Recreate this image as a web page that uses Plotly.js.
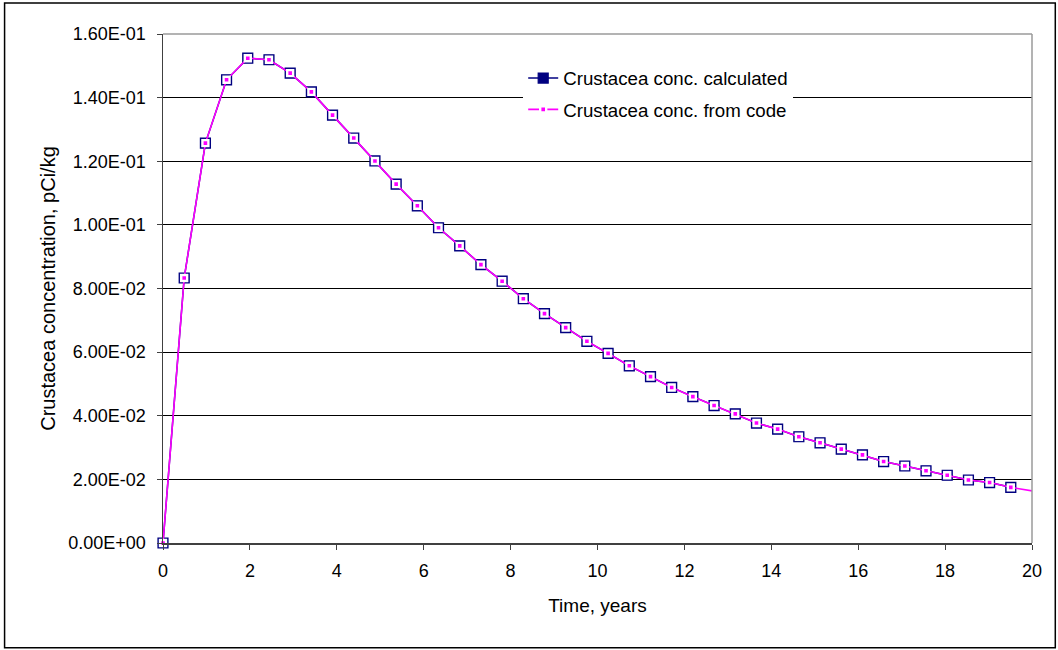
<!DOCTYPE html>
<html>
<head>
<meta charset="utf-8">
<script src="https://cdn.plot.ly/plotly-3.0.1.min.js"></script>
<style>
  html, body { margin: 0; padding: 0; background: #ffffff; }
  #chart { width: 1058px; height: 650px; }
</style>
</head>
<body>
<div id="chart"></div>
<script>
// ---- Data ----
const timeYears = [0, 0.488, 0.976, 1.463, 1.951, 2.439, 2.927, 3.415, 3.902, 4.390,
  4.878, 5.366, 5.854, 6.341, 6.829, 7.317, 7.805, 8.293, 8.780, 9.268,
  9.756, 10.244, 10.732, 11.220, 11.707, 12.195, 12.683, 13.171, 13.659, 14.146,
  14.634, 15.122, 15.610, 16.098, 16.585, 17.073, 17.561, 18.049, 18.537, 19.024,
  19.512];
const calcConc = [0, 0.0833, 0.1257, 0.1456, 0.1524, 0.1519, 0.1477, 0.1418, 0.1345, 0.1273,
  0.1201, 0.1128, 0.1060, 0.0991, 0.0934, 0.0875, 0.0823, 0.0768, 0.0721, 0.0677,
  0.0634, 0.0596, 0.0557, 0.0523, 0.0489, 0.0460, 0.0432, 0.0406, 0.0377, 0.0358,
  0.0334, 0.0315, 0.0295, 0.0277, 0.0256, 0.0242, 0.0227, 0.0213, 0.0198, 0.0190,
  0.0175];
const codeTime = [0, 0.488, 0.976, 1.463, 1.951, 2.439, 2.927, 3.415, 3.902, 4.390,
  4.878, 5.366, 5.854, 6.341, 6.829, 7.317, 7.805, 8.293, 8.780, 9.268,
  9.756, 10.244, 10.732, 11.220, 11.707, 12.195, 12.683, 13.171, 13.659, 14.146,
  14.634, 15.122, 15.610, 16.098, 16.585, 17.073, 17.561, 18.049, 18.537, 19.024,
  19.512, 20.12];
const codeConc = [0, 0.0833, 0.1257, 0.1456, 0.1524, 0.1519, 0.1477, 0.1418, 0.1345, 0.1273,
  0.1201, 0.1128, 0.1060, 0.0991, 0.0934, 0.0875, 0.0823, 0.0768, 0.0721, 0.0677,
  0.0634, 0.0596, 0.0557, 0.0523, 0.0489, 0.0460, 0.0432, 0.0406, 0.0377, 0.0358,
  0.0334, 0.0315, 0.0295, 0.0277, 0.0256, 0.0242, 0.0227, 0.0213, 0.0198, 0.0190,
  0.0175, 0.0161];
const seriesNames = ['Crustacea conc. calculated', 'Crustacea conc. from code'];
const xTickVals = [0, 2, 4, 6, 8, 10, 12, 14, 16, 18, 20];
const yTickVals = [0, 0.02, 0.04, 0.06, 0.08, 0.10, 0.12, 0.14, 0.16];
const yTickText = ['0.00E+00', '2.00E-02', '4.00E-02', '6.00E-02', '8.00E-02',
  '1.00E-01', '1.20E-01', '1.40E-01', '1.60E-01'];
const xTitle = 'Time, years';
const yTitle = 'Crustacea concentration, pCi/kg';

// ---- Styling ----
const FONT = 'Liberation Sans, Arial, Helvetica, sans-serif';
const NAVY = '#000080';
const MAGENTA = '#FF00FF';
const AXISCOLOR = '#404040';

const traces = [
  {
    x: timeYears, y: calcConc, name: seriesNames[0], type: 'scatter', mode: 'lines+markers',
    legendgroup: 'a',
    line: { color: NAVY, width: 1.5 },
    marker: { symbol: 'square', size: 10, color: NAVY, line: { color: NAVY, width: 1.2 } },
    cliponaxis: false, hoverinfo: 'x+y'
  },
  {
    x: codeTime, y: codeConc, name: seriesNames[1], type: 'scatter', mode: 'lines+markers',
    legendgroup: 'b',
    line: { color: MAGENTA, width: 1.6 },
    marker: { symbol: 'square', size: 6, color: MAGENTA, line: { color: '#ffffff', width: 2.4 } },
    cliponaxis: false, hoverinfo: 'x+y'
  }
];

const layout = {
  width: 1058, height: 650, autosize: false,
  paper_bgcolor: '#ffffff', plot_bgcolor: '#ffffff',
  font: { family: FONT, size: 18, color: '#000000' },
  margin: { l: 163.3, r: 26.3, t: 34, b: 106.7, pad: 0 },
  showlegend: true,
  legend: {
    x: 0.4145, xanchor: 'left', y: 0.95, yanchor: 'top',
    bgcolor: '#ffffff', borderwidth: 0,
    font: { family: FONT, size: 18.7, color: '#000000' },
    traceorder: 'grouped', tracegroupgap: 4
  },
  xaxis: {
    range: [0, 20], tickvals: xTickVals, ticktext: xTickVals.map(String),
    ticks: 'outside', ticklen: 5, tickwidth: 1, tickcolor: AXISCOLOR,
    ticklabelstandoff: 6,
    showline: true, linecolor: AXISCOLOR, linewidth: 1.5,
    showgrid: false, zeroline: false,
    tickfont: { family: FONT, size: 18, color: '#000000' },
    title: { text: xTitle, font: { family: FONT, size: 19, color: '#000000' }, standoff: 18 }
  },
  yaxis: {
    range: [0, 0.16], tickvals: yTickVals, ticktext: yTickText,
    ticks: 'outside', ticklen: 5, tickwidth: 1, tickcolor: AXISCOLOR,
    ticklabelstandoff: 7,
    showline: true, linecolor: AXISCOLOR, linewidth: 1.5,
    showgrid: true, gridcolor: '#000000', gridwidth: 1,
    zeroline: false,
    tickfont: { family: FONT, size: 18, color: '#000000' },
    title: { text: yTitle, font: { family: FONT, size: 20, color: '#000000' }, standoff: 7 }
  },
  shapes: [
    // plot-area border (top and right, grey)
    { type: 'line', xref: 'paper', yref: 'paper', x0: 0, x1: 1, y0: 1, y1: 1,
      line: { color: '#9a9a9a', width: 1.5 } },
    { type: 'line', xref: 'paper', yref: 'paper', x0: 1, x1: 1, y0: 0, y1: 1,
      line: { color: '#9a9a9a', width: 1.5 } },
    // outer chart border
    { type: 'rect', xref: 'paper', yref: 'paper',
      x0: -0.1823, x1: 1.0268, y0: -0.2056, y1: 1.0610,
      line: { color: '#000000', width: 1.5 }, fillcolor: 'rgba(0,0,0,0)' }
  ]
};

Plotly.newPlot('chart', traces, layout, { displayModeBar: false, staticPlot: true });
</script>
</body>
</html>
